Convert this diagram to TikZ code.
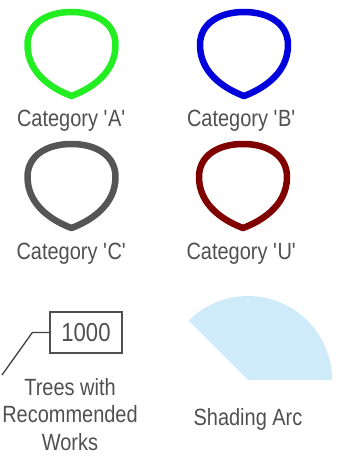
\documentclass[tikz,border=0pt]{standalone}
\usepackage{fontspec}
\setmainfont[FakeStretch=0.85]{Liberation Sans}
\usepackage{tikz}
\usetikzlibrary{positioning}
\usepackage{xcolor}
\definecolor{catA}{HTML}{22EE22}
\definecolor{catB}{HTML}{0000DD}
\definecolor{catC}{HTML}{555555}
\definecolor{catU}{HTML}{800000}
\definecolor{arcblue}{HTML}{CFEBF9}
\definecolor{txtgrey}{HTML}{505050}
\newcommand{\q}{\textquotesingle}

\begin{document}
\begin{tikzpicture}[x=1pt, y=-1pt,
  catpic/.pic={\draw[line width=6.5pt, line join=round, pic actions] (0,41) .. controls (-16,35) and (-44,20) .. (-44,-10) .. controls (-44,-32) and (-24,-43) .. (0,-43) .. controls (24,-43) and (44,-32) .. (44,-10) .. controls (44,20) and (16,35) .. (0,41) -- cycle;},
  lab/.style={anchor=base, inner sep=0pt, text=txtgrey, font=\fontsize{23.5}{27.5}\selectfont},
  numbox/.style={rectangle, draw=txtgrey, line width=1.3pt, minimum width=72pt, minimum height=41pt, inner sep=0pt, text=txtgrey, font=\fontsize{26}{30}\selectfont},
  lead/.style={draw=txtgrey!80!black, line width=1.3pt}
]
\useasboundingbox (0,0) rectangle (350,457);
% category markers
\pic[draw=catA] at (71.5,55) {catpic};
\pic[draw=catB] at (244,55) {catpic};
\pic[draw=catC] at (71.5,187) {catpic};
\pic[draw=catU] at (243,187) {catpic};
\node[lab] (labA) at (71.5,127) {Category \q A\q};
\node[lab] (labB) at (241.5,127) {Category \q B\q};
\node[lab] (labC) at (71.5,259) {Category \q C\q};
\node[lab] (labU) at (241.5,259) {Category \q U\q};
% number box with leader
\node[numbox] (num) at (86,332.5) {1000};
\coordinate (tip) at (2,375);
\draw[lead] (num.west) -- ++(-17,0) -- (tip);
\node[lab, anchor=north, align=center] (trees) at (70,378) {Trees with\\Recommended\\Works};
% shading arc
\fill[arcblue] (248,380) -- ++(84,0) arc[start angle=0, end angle=-135, radius=84] -- cycle;
\node[lab] (arclab) at (248,425) {Shading Arc};
\end{tikzpicture}
\end{document}
